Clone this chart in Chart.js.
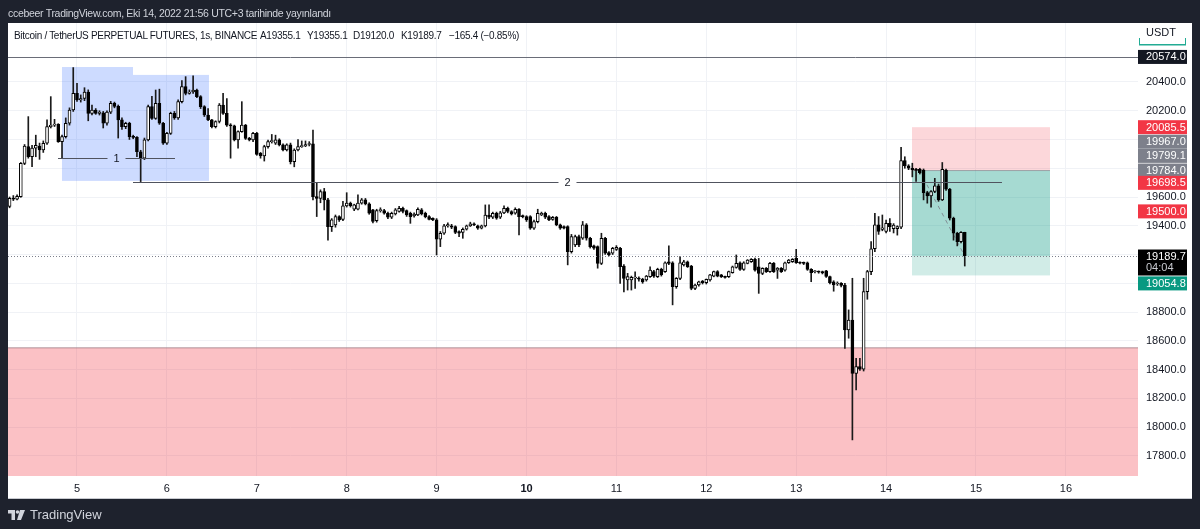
<!DOCTYPE html>
<html><head><meta charset="utf-8">
<script src="https://cdn.jsdelivr.net/npm/chart.js@4.4.1/dist/chart.umd.min.js"></script>
<style>
html,body{margin:0;padding:0;background:#1e222d;width:1200px;height:529px;overflow:hidden;}
#wrap{position:relative;width:1200px;height:529px;}
canvas{position:absolute;left:0;top:0;}
.t{position:absolute;white-space:nowrap;font-family:"Liberation Sans","DejaVu Sans",sans-serif;}
#hdr{left:8px;top:7px;font-size:10.5px;letter-spacing:-0.3px;color:#d1d4dc;}
.ti{top:30px;font-size:10px;letter-spacing:-0.3px;color:#131722;}
#cur{left:1146px;top:26px;font-size:11px;color:#131722;}
#logo{left:8px;top:507px;font-size:13px;color:#d1d4dc;display:flex;align-items:center;gap:4px;}
</style></head>
<body><div id="wrap">
<canvas id="c" width="1200" height="529"></canvas>
<div class="t" id="hdr">ccebeer TradingView.com, Eki 14, 2022 21:56 UTC+3 tarihinde yayınlandı</div>
<div class="t ti" style="left:14px">Bitcoin / TetherUS PERPETUAL FUTURES, 1s, BINANCE</div>
<div class="t ti" style="left:260px">A19355.1</div>
<div class="t ti" style="left:307px">Y19355.1</div>
<div class="t ti" style="left:353px">D19120.0</div>
<div class="t ti" style="left:401px">K19189.7</div>
<div class="t ti" style="left:449px">−165.4 (−0.85%)</div>
<div class="t" id="cur">USDT</div>
<div class="t" id="logo"><svg width="18" height="12" viewBox="0 0 18 12"><rect x="0" y="1" width="7" height="3.5" fill="#d1d4dc"/><rect x="3.5" y="1" width="3.5" height="10" fill="#d1d4dc"/><circle cx="9.5" cy="3" r="1.8" fill="#d1d4dc"/><polygon points="12,1 17,1 13,11 9,11" fill="#d1d4dc"/></svg><span>TradingView</span></div>
</div>
<script>
// ---- DATA (hourly candles, BTC/USDT perpetual, Oct 4 06:00 .. Oct 14 21:00) ----
const firstCandleDay = 4.25;            // Oct 4, 06:00 (day-of-month units)
const candleStepDays = 1 / 24;          // 1 hour
const opens = [19535,19590,19585,19603,19834,19950,19881,19940,19955,19927,19974,20089,20100,20105,19985,20020,20113,20205,20321,20275,20285,20330,20182,20205,20182,20185,20113,20190,20252,20230,20136,20089,20113,20020,20015,19915,19870,19997,20228,20147,20252,20113,19974,20043,20182,20150,20263,20368,20321,20330,20344,20298,20228,20170,20136,20089,20125,20240,20182,20100,20095,19997,20055,20100,20008,19997,20043,19904,19885,19950,19985,19974,19997,19962,19927,19962,19846,19927,19950,19955,19965,19970,19603,19590,19638,19580,19394,19406,19464,19445,19538,19557,19515,19515,19557,19580,19552,19510,19436,19505,19505,19487,19459,19482,19500,19522,19505,19487,19468,19475,19510,19487,19464,19452,19441,19306,19348,19399,19400,19394,19360,19353,19376,19399,19413,19399,19383,19399,19475,19459,19487,19459,19490,19522,19499,19487,19515,19468,19464,19464,19383,19429,19475,19487,19464,19445,19459,19406,19394,19394,19220,19266,19325,19313,19406,19313,19260,19255,19139,19313,19213,19209,19236,19244,19120,19023,19023,19036,19036,19028,19023,19046,19081,19046,19097,19081,19150,19143,18976,19034,19128,19150,19120,18965,18988,19016,19004,19023,19050,19081,19058,19046,19046,19074,19111,19143,19097,19139,19150,19167,19115,19069,19104,19081,19139,19092,19104,19092,19143,19150,19173,19143,19143,19143,19097,19080,19081,19081,19086,19046,19011,18995,19000,18988,18676,18745,18374,18420,18402,18942,19081,19240,19406,19375,19360,19417,19380,19380,19390,19853,19816,19800,19795,19793,19788,19631,19608,19638,19677,19580,19788,19654,19452,19348,19290,19355.1];
const highs = [19600,19610,19615,19840,19965,20159,19960,20030,19975,19990,20136,20298,20140,20110,20030,20150,20220,20500,20390,20310,20360,20345,20240,20215,20200,20195,20200,20265,20260,20240,20150,20120,20120,20030,20020,19925,20010,20240,20300,20344,20350,20120,20050,20190,20195,20275,20410,20437,20345,20442,20350,20305,20235,20215,20140,20130,20250,20321,20285,20110,20100,20060,20263,20105,20015,20050,20050,19910,19960,19995,20035,20030,20005,19970,19970,19975,19935,20000,19990,19990,19985,20066,19696,19650,19660,19590,19450,19475,19470,19570,19630,19565,19550,19615,19590,19590,19560,19515,19515,19525,19515,19495,19495,19520,19535,19530,19510,19495,19490,19525,19520,19495,19470,19455,19450,19360,19410,19420,19410,19400,19365,19385,19405,19425,19420,19405,19405,19545,19545,19495,19495,19500,19538,19530,19505,19525,19520,19475,19470,19470,19440,19515,19495,19495,19470,19465,19465,19412,19400,19400,19340,19335,19335,19430,19415,19320,19265,19260,19348,19320,19220,19250,19262,19250,19130,19069,19050,19080,19045,19035,19055,19115,19090,19105,19105,19150,19260,19150,19040,19185,19160,19155,19125,18995,19015,19020,19030,19062,19085,19088,19062,19050,19085,19120,19197,19150,19150,19165,19172,19175,19173,19108,19110,19145,19145,19110,19110,19148,19166,19172,19236,19150,19148,19148,19102,19088,19086,19085,19090,19050,19018,19010,19005,19000,18815,19035,18479,18479,19035,19090,19290,19487,19464,19475,19440,19450,19415,19400,19946,19880,19825,19835,19800,19800,19795,19640,19645,19730,19690,19840,19795,19660,19460,19355,19360,19355.1];
const lows = [19525,19575,19580,19598,19825,19870,19811,19880,19862,19910,19965,20080,20090,19980,19870,20010,20100,20195,20265,20260,20270,20130,20170,20175,20170,20080,20100,20180,20220,20010,20070,20075,20000,20005,19881,19707,19860,19990,20140,20140,20105,19965,19965,20035,20140,20140,20255,20310,20315,20320,20290,20215,20160,20130,20080,20080,20115,20175,20090,19870,19990,19940,20050,20000,19990,19985,19890,19870,19850,19940,19975,19965,19955,19920,19920,19830,19810,19920,19945,19950,19955,19580,19464,19560,19510,19300,19360,19390,19430,19435,19530,19530,19505,19510,19550,19545,19480,19420,19425,19495,19480,19450,19450,19475,19495,19490,19465,19417,19460,19470,19475,19455,19440,19435,19197,19255,19340,19390,19380,19345,19325,19313,19370,19395,19400,19375,19378,19392,19450,19450,19445,19450,19485,19490,19475,19480,19336,19455,19430,19375,19375,19420,19470,19450,19435,19438,19400,19375,19378,19128,19210,19255,19255,19305,19300,19245,19235,19105,19130,19200,19190,19200,19228,19000,18940,18953,18953,18965,19015,19000,19015,19040,19040,19040,19050,19075,19130,18850,18965,19025,19120,19110,18955,18955,18980,18995,18995,19015,19045,19045,19040,19035,19040,19070,19105,19090,19090,19135,19145,19085,18930,19060,19075,19075,19075,19034,19075,19085,19138,19145,19138,19135,19130,19090,19011,19072,19070,19065,19040,18995,18945,18985,18975,18548,18618,17911,18258,18395,18390,18889,19060,19220,19340,19365,19350,19360,19350,19335,19380,19800,19790,19740,19708,19760,19580,19557,19530,19630,19570,19575,19645,19440,19300,19260,19280,19120];
const closes = [19590,19585,19605,19834,19955,19881,19940,19960,19927,19974,20089,20100,20105,19985,20020,20113,20205,20321,20275,20285,20330,20182,20205,20182,20190,20113,20190,20252,20230,20136,20089,20113,20020,20015,19915,19870,19997,20228,20147,20252,20113,19974,20043,20182,20150,20263,20368,20321,20330,20344,20298,20228,20170,20136,20089,20125,20240,20182,20100,20095,19997,20055,20100,20008,19997,20043,19897,19885,19950,19985,19990,19997,19962,19927,19962,19846,19927,19950,19955,19965,19970,19603,19590,19638,19580,19394,19441,19464,19441,19538,19557,19540,19545,19557,19580,19552,19487,19430,19505,19510,19487,19459,19487,19510,19522,19500,19475,19464,19482,19515,19482,19464,19445,19441,19306,19348,19399,19408,19390,19353,19348,19376,19399,19413,19406,19383,19399,19475,19459,19487,19452,19490,19522,19499,19482,19515,19464,19464,19441,19383,19429,19487,19487,19459,19441,19459,19406,19383,19383,19220,19325,19325,19266,19406,19313,19255,19244,19139,19313,19209,19197,19244,19250,19115,19034,19046,19041,19040,19028,19010,19050,19092,19050,19097,19060,19143,19139,18976,19034,19143,19150,19115,18965,18988,19011,19004,19027,19058,19081,19050,19046,19041,19081,19115,19139,19097,19143,19162,19167,19092,19069,19104,19081,19139,19081,19104,19081,19143,19162,19167,19143,19140,19138,19097,19074,19081,19078,19072,19047,19004,18988,19000,18985,18676,18745,18374,18420,18402,18942,19081,19240,19406,19360,19385,19417,19394,19405,19395,19853,19816,19800,19790,19785,19770,19631,19608,19638,19677,19580,19793,19654,19452,19348,19290,19355.1,19189.7];

const dayTicks = [5,6,7,8,9,10,11,12,13,14,15,16];
const boldDays = [10];
const priceTicks = [17800,18000,18200,18400,18600,18800,19000,19200,19400,19600,19800,20000,20200,20400];

// drawings
const demandZone = {top: 18550, bottom: 17500};
const blueBoxes = [
  {from: 4.833, to: 5.623, top: 20504, bottom: 19712},
  {from: 5.623, to: 6.468, top: 20449, bottom: 19712}
];
const levelLines = [
  {from: 4.789, to: 6.090, price: 19871, text: '1'},
  {from: 5.623, to: 15.289, price: 19705, text: '2'}
];
const fullLevel = 20574.0;
const position = {from: 14.288, to: 15.823, stop: 20085.5, entry: 19784.0, target: 19054.8, entryDay: 14.37};
const lastPrice = 19189.7;
const countdown = '04:04';
const axisLabels = [
  {price: 20574.0, kind: 'dark'},
  {price: 20085.5, kind: 'red'},
  {price: 19967.0, kind: 'gray'},
  {price: 19799.1, kind: 'gray'},
  {price: 19784.0, kind: 'gray'},
  {price: 19698.5, kind: 'red'},
  {price: 19500.0, kind: 'red'},
  {price: 19054.8, kind: 'teal'}
];
// ---- layout / style ----
const labelShift = {'19967': -2.5, '19799.1': -12.5, '19054.8': 8};
const kindColor = {dark:'#131722', red:'#f23645', gray:'#7d808b', teal:'#089981'};
const X_MIN = 4.2325, X_MAX = 16.802, Y_MIN = 17660, Y_MAX = 20810;
const FONT = '"Liberation Sans","DejaVu Sans",sans-serif';

const times = opens.map((_, i) => firstCandleDay + i * candleStepDays);
const bodyData = times.map((x, i) => ({x, y: [opens[i], closes[i]]}));
const wickData = times.map((x, i) => ({x, y: [lows[i], highs[i]]}));
const bodyFill = opens.map((o, i) => closes[i] >= o ? '#ffffff' : '#000000');
const coveredTick = v => axisLabels.some(l => Math.abs(l.price - v) < 75) || Math.abs(lastPrice - v) < 75;

const drawPlugin = {
  id: 'tvDraw',
  beforeDraw(chart) {
    const c = chart.ctx;
    c.save();
    c.fillStyle = '#1e222d'; c.fillRect(0, 0, 1200, 529);
    c.fillStyle = '#ffffff'; c.fillRect(8, 23, 1184, 476);
    c.fillStyle = '#c9cbd1'; c.fillRect(8, 498, 1184, 1);
    c.restore();
  },
  beforeDatasetsDraw(chart) {
    const c = chart.ctx, a = chart.chartArea, xs = chart.scales.x, ys = chart.scales.y;
    c.save();
    c.beginPath(); c.rect(a.left, a.top, a.right - a.left, a.bottom - a.top); c.clip();
    let yt = ys.getPixelForValue(demandZone.top), yb = ys.getPixelForValue(demandZone.bottom);
    c.fillStyle = 'rgba(242,54,69,0.31)';
    c.fillRect(a.left, yt, a.right - a.left, yb - yt);
    c.fillStyle = 'rgba(160,120,130,0.55)';
    c.fillRect(a.left, Math.round(yt) - 1, a.right - a.left, 1.5);
    c.fillStyle = 'rgba(41,98,255,0.23)';
    blueBoxes.forEach(b => {
      const x0 = xs.getPixelForValue(b.from), x1 = xs.getPixelForValue(b.to);
      const y0 = ys.getPixelForValue(b.top), y1 = ys.getPixelForValue(b.bottom);
      c.fillRect(x0, y0, x1 - x0, y1 - y0);
    });
    const px0 = xs.getPixelForValue(position.from), px1 = xs.getPixelForValue(position.to);
    const ps = ys.getPixelForValue(position.stop), pe = ys.getPixelForValue(position.entry);
    const pl = ys.getPixelForValue(lastPrice), pt = ys.getPixelForValue(position.target);
    c.fillStyle = 'rgba(242,54,69,0.2)'; c.fillRect(px0, ps, px1 - px0, pe - ps);
    c.fillStyle = 'rgba(8,153,129,0.36)'; c.fillRect(px0, pe, px1 - px0, pl - pe);
    c.fillStyle = 'rgba(8,153,129,0.19)'; c.fillRect(px0, pl, px1 - px0, pt - pl);
    c.fillStyle = 'rgba(120,123,134,0.6)'; c.fillRect(px0, pe - 0.5, px1 - px0, 1);
    c.strokeStyle = 'rgba(120,123,134,0.8)'; c.lineWidth = 1; c.setLineDash([4, 4]);
    c.beginPath();
    c.moveTo(xs.getPixelForValue(position.entryDay), pe);
    c.lineTo(xs.getPixelForValue(times[times.length - 1]), pl);
    c.stroke(); c.setLineDash([]);
    c.restore();
  },
  afterDatasetsDraw(chart) {
    const c = chart.ctx, a = chart.chartArea, xs = chart.scales.x, ys = chart.scales.y;
    c.save();
    c.beginPath(); c.rect(a.left, a.top, a.right - a.left, a.bottom - a.top); c.clip();
    const yf = Math.round(ys.getPixelForValue(fullLevel)) + 0.5;
    c.strokeStyle = '#6a6d78'; c.lineWidth = 1;
    c.beginPath(); c.moveTo(a.left, yf); c.lineTo(a.right, yf); c.stroke();
    c.font = '11px ' + FONT; c.textAlign = 'center'; c.textBaseline = 'middle';
    levelLines.forEach(l => {
      const x0 = xs.getPixelForValue(l.from), x1 = xs.getPixelForValue(l.to);
      const y = Math.round(ys.getPixelForValue(l.price)) + 0.5, xm = (x0 + x1) / 2;
      c.strokeStyle = '#50535e';
      c.beginPath(); c.moveTo(x0, y); c.lineTo(xm - 9, y); c.moveTo(xm + 9, y); c.lineTo(x1, y); c.stroke();
      c.fillStyle = '#131722'; c.fillText(l.text, xm, y);
    });
    const yl = Math.round(ys.getPixelForValue(lastPrice)) + 0.5;
    c.strokeStyle = '#7d808b'; c.setLineDash([1, 2]);
    c.beginPath(); c.moveTo(a.left, yl); c.lineTo(a.right, yl); c.stroke(); c.setLineDash([]);
    c.restore();
  },
  afterDraw(chart) {
    const c = chart.ctx, ys = chart.scales.y, a = chart.chartArea;
    const bx = a.right, bw = 49, bh = 14;
    c.save();
    c.fillStyle = '#22ab94';
    c.fillRect(bx + 1, 44, bw - 2, 1.5); c.fillRect(bx + 1, 38, 1, 7); c.fillRect(bx + bw - 2, 38, 1, 7);
    c.font = '11px ' + FONT; c.textBaseline = 'middle'; c.textAlign = 'left';
    axisLabels.forEach(l => {
      const y = ys.getPixelForValue(l.price) + (labelShift[String(l.price)] || 0);
      c.fillStyle = kindColor[l.kind];
      c.fillRect(bx, y - bh / 2, bw, bh);
      c.fillStyle = '#ffffff';
      c.fillText(l.price.toFixed(1), bx + 8, y + 0.5);
    });
    const yl = ys.getPixelForValue(lastPrice);
    c.fillStyle = '#000000'; c.fillRect(bx, yl - 6.5, bw, 26);
    c.fillStyle = '#ffffff'; c.fillText(lastPrice.toFixed(1), bx + 8, yl + 0.5);
    c.fillStyle = '#c8cad0'; c.fillText(countdown, bx + 8, yl + 12);
    c.restore();
  }
};

new Chart(document.getElementById('c'), {
  type: 'bar',
  data: {
    datasets: [
      {label: 'body', data: bodyData, backgroundColor: bodyFill, borderColor: '#000000', borderWidth: 1,
       borderSkipped: false, barThickness: 3, grouped: false, minBarLength: 1, order: 0},
      {label: 'wick', data: wickData, backgroundColor: '#1a1a1a', borderWidth: 0,
       barThickness: 1, grouped: false, order: 1}
    ]
  },
  options: {
    responsive: false, animation: false, devicePixelRatio: 1,
    layout: {padding: {left: 8, top: 23, right: 8, bottom: 30}},
    plugins: {legend: {display: false}, tooltip: {enabled: false}},
    scales: {
      x: {
        type: 'linear', min: X_MIN, max: X_MAX, offset: false,
        afterBuildTicks: s => { s.ticks = dayTicks.map(v => ({value: v})); },
        afterFit: s => { s.height = 23; },
        grid: {color: '#f0f2f6', drawTicks: false, offset: false},
        border: {display: false},
        ticks: {padding: 6, color: '#131722', maxRotation: 0, autoSkip: false,
          font: ctx => ({family: FONT, size: 11, weight: boldDays.includes(ctx.tick && ctx.tick.value) ? 'bold' : 'normal'}),
          callback: v => String(v)}
      },
      y: {
        position: 'right', min: Y_MIN, max: Y_MAX,
        afterBuildTicks: s => { s.ticks = priceTicks.map(v => ({value: v})); },
        afterFit: s => { s.width = 54; },
        grid: {color: '#f0f2f6', drawTicks: false},
        border: {display: false},
        ticks: {padding: 8, color: '#131722', font: {family: FONT, size: 11}, autoSkip: false,
          callback: v => coveredTick(v) ? '' : Number(v).toFixed(1)}
      }
    }
  },
  plugins: [drawPlugin]
});
</script>
</body></html>
